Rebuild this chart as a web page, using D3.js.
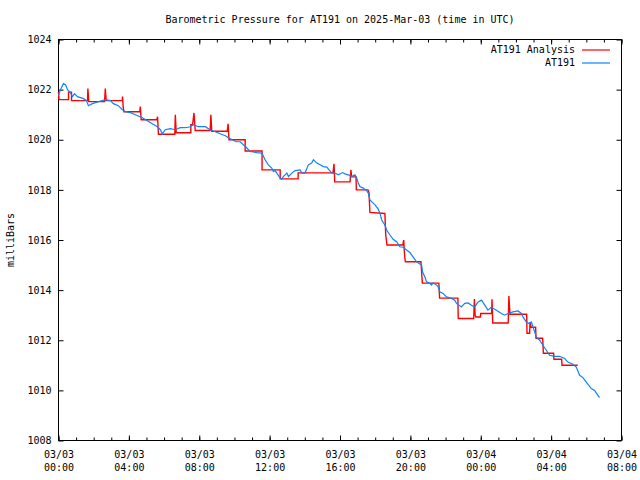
<!DOCTYPE html>
<html>
<head>
<meta charset="utf-8">
<script src="https://cdn.jsdelivr.net/npm/d3@7"></script>
<style>
  html, body { margin: 0; padding: 0; background: #fff; }
  svg text { font-family: "DejaVu Sans Mono", "Liberation Mono", monospace; font-size: 10px; fill: #000; }
</style>
</head>
<body>
<svg id="chart" width="640" height="480"></svg>
<script>
// ---- data (hours after 2025-03-03 00:00 UTC) ----
const titleText = "Barometric Pressure for AT191 on 2025-Mar-03 (time in UTC)";
const yLabel = "milliBars";
const seriesNames = ["AT191 Analysis", "AT191"];
const seriesColors = ["#ff0000", "#0a84ff"];

const analysisHours = [0, 0.03, 0.57, 0.57, 0.74, 0.74, 1.65, 1.67, 1.72, 2.62,
  2.66, 2.71, 3.62, 3.64, 3.68, 3.72, 4.62, 4.65, 4.70, 5.59,
  5.63, 5.68, 6.61, 6.64, 6.69, 7.52, 7.52, 7.62, 7.70, 7.77,
  8.62, 8.66, 8.71, 9.59, 9.64, 9.69, 10.61, 10.61, 11.57, 11.57,
  12.60, 12.60, 13.62, 13.62, 15.60, 15.66, 15.70, 16.57, 16.62, 16.66,
  16.91, 16.93, 17.59, 17.65, 17.70, 18.55, 18.60, 18.67, 19.57, 19.62,
  19.68, 19.72, 20.60, 20.68, 21.62, 21.66, 22.70, 22.72, 23.60, 23.64,
  23.68, 23.72, 23.98, 24.00, 24.62, 24.64, 24.68, 25.56, 25.60, 25.66,
  26.61, 26.63, 26.78, 26.80, 26.86, 27.12, 27.14, 27.52, 27.56, 28.14,
  28.16, 28.60, 28.62, 29.51];
const analysisValues = [1021.92, 1021.6, 1021.6, 1021.9, 1021.9, 1021.56, 1021.56, 1022.04, 1021.52, 1021.52,
  1022.04, 1021.56, 1021.56, 1021.72, 1021.28, 1021.12, 1021.12, 1021.32, 1020.8, 1020.8,
  1020.92, 1020.22, 1020.22, 1021.0, 1020.28, 1020.28, 1020.6, 1020.6, 1021.07, 1020.37,
  1020.37, 1021.0, 1020.34, 1020.34, 1020.64, 1020.0, 1020.0, 1019.55, 1019.55, 1018.8,
  1018.8, 1018.44, 1018.44, 1018.68, 1018.68, 1019.04, 1018.32, 1018.32, 1018.8, 1018.52,
  1018.52, 1018.0, 1018.0, 1017.88, 1017.1, 1017.06, 1016.2, 1015.8, 1015.8, 1016.0,
  1015.3, 1015.13, 1015.13, 1014.28, 1014.28, 1013.68, 1013.68, 1012.87, 1012.87, 1013.64,
  1013.0, 1012.93, 1012.93, 1013.07, 1013.07, 1013.64, 1012.69, 1012.69, 1013.76, 1013.04,
  1013.04, 1012.28, 1012.28, 1012.72, 1012.52, 1012.52, 1012.08, 1012.08, 1011.48, 1011.48,
  1011.24, 1011.24, 1011.0, 1011.0];

const obsHours = [0, 0.11, 0.28, 0.40, 0.51, 0.68, 0.79, 0.91, 1.08, 1.25,
  1.42, 1.59, 1.70, 1.93, 2.10, 2.38, 2.67, 2.95, 3.12, 3.40,
  3.63, 3.80, 4.09, 4.37, 4.77, 5.05, 5.33, 5.62, 5.79, 5.90,
  6.07, 6.35, 6.64, 6.92, 7.21, 7.49, 7.66, 7.94, 8.34, 8.62,
  8.91, 9.19, 9.48, 9.65, 9.87, 10.10, 10.33, 10.71, 10.89, 11.27,
  11.56, 11.74, 11.93, 12.12, 12.22, 12.31, 12.41, 12.56, 12.69, 12.78,
  12.98, 13.07, 13.26, 13.45, 13.73, 13.83, 14.01, 14.20, 14.39, 14.49,
  14.68, 14.87, 15.05, 15.25, 15.53, 15.72, 15.90, 16.15, 16.28, 16.47,
  16.66, 16.85, 16.95, 17.04, 17.13, 17.32, 17.51, 17.61, 17.70, 17.80,
  17.99, 18.17, 18.27, 18.37, 18.55, 18.65, 18.84, 19.02, 19.22, 19.40,
  19.59, 19.78, 19.97, 20.16, 20.35, 20.54, 20.64, 20.69, 20.82, 20.92,
  21.11, 21.20, 21.29, 21.49, 21.58, 21.67, 21.86, 22.05, 22.34, 22.52,
  22.62, 22.90, 23.09, 23.28, 23.47, 23.66, 23.85, 24.04, 24.23, 24.41,
  24.60, 24.79, 24.98, 25.17, 25.36, 25.55, 25.83, 26.12, 26.31, 26.40,
  26.59, 26.74, 26.88, 26.97, 27.16, 27.35, 27.53, 27.73, 27.91, 28.20,
  28.48, 28.77, 28.95, 29.24, 29.43, 29.62, 29.81, 30.00, 30.28, 30.47,
  30.66, 30.75];
const obsValues = [1021.76, 1022.0, 1022.24, 1022.2, 1022.0, 1021.88, 1021.72, 1021.84, 1021.72, 1021.68,
  1021.64, 1021.56, 1021.36, 1021.44, 1021.48, 1021.54, 1021.6, 1021.56, 1021.44, 1021.36,
  1021.2, 1021.12, 1021.08, 1021.0, 1020.88, 1020.76, 1020.64, 1020.52, 1020.4, 1020.24,
  1020.4, 1020.44, 1020.4, 1020.48, 1020.48, 1020.52, 1020.6, 1020.52, 1020.52, 1020.4,
  1020.32, 1020.24, 1020.16, 1020.08, 1020.0, 1019.92, 1019.92, 1019.67, 1019.53, 1019.49,
  1019.47, 1019.2, 1019.0, 1018.87, 1018.73, 1018.77, 1018.67, 1018.51, 1018.43, 1018.53,
  1018.67, 1018.53, 1018.67, 1018.77, 1018.8, 1018.67, 1018.67, 1019.0, 1019.07, 1019.2,
  1019.07, 1019.0, 1018.93, 1018.91, 1018.67, 1018.67, 1018.6, 1018.69, 1018.64, 1018.6,
  1018.53, 1018.6, 1018.47, 1018.27, 1018.13, 1018.07, 1017.97, 1017.87, 1017.6, 1017.53,
  1017.4, 1017.23, 1017.07, 1016.8, 1016.6, 1016.4, 1016.2, 1016.03, 1015.93, 1015.73,
  1015.71, 1015.6, 1015.5, 1015.32, 1015.13, 1015.04, 1015.0, 1014.73, 1014.53, 1014.33,
  1014.27, 1014.2, 1014.29, 1014.2, 1014.13, 1013.93, 1013.87, 1013.73, 1013.67, 1013.6,
  1013.47, 1013.33, 1013.47, 1013.49, 1013.4, 1013.33, 1013.53, 1013.6, 1013.4, 1013.2,
  1013.32, 1013.24, 1013.16, 1013.07, 1013.0, 1013.07, 1013.13, 1013.17, 1013.07, 1012.93,
  1012.73, 1012.67, 1012.73, 1012.53, 1012.13, 1012.0, 1011.8, 1011.6, 1011.4, 1011.36,
  1011.36, 1011.27, 1011.13, 1011.04, 1010.93, 1010.6, 1010.51, 1010.33, 1010.07, 1010.0,
  1009.8, 1009.71];

const yTicks = [1008, 1010, 1012, 1014, 1016, 1018, 1020, 1022, 1024];
const startTime = Date.UTC(2025, 2, 3, 0, 0);
const endTime = Date.UTC(2025, 2, 4, 8, 0);

// ---- layout ----
const svg = d3.select("#chart");
const L = 58.5, R = 621.5, T = 39.5, B = 440.5;

const x = d3.scaleUtc().domain([new Date(startTime), new Date(endTime)]).range([L, R]);
const y = d3.scaleLinear().domain([1008, 1024]).range([B, T]);
const toDate = h => new Date(startTime + h * 3600000);

const analysis = analysisHours.map((h, i) => ({ t: toDate(h), v: analysisValues[i] }));
const obs = obsHours.map((h, i) => ({ t: toDate(h), v: obsValues[i] }));

// title
svg.append("text").attr("x", 340).attr("y", 20).attr("text-anchor", "middle")
  .attr("dominant-baseline", "middle").text(titleText);

// y label
svg.append("text").attr("transform", "translate(11,240) rotate(-90)")
  .attr("text-anchor", "middle").attr("dominant-baseline", "middle").text(yLabel);

const majorTicks = d3.utcHour.every(4).range(new Date(startTime), new Date(endTime + 1));
const minorTicks = d3.utcHour.every(1).range(new Date(startTime), new Date(endTime + 1));

// minor x ticks (bottom and top)
svg.append("g").attr("transform", `translate(0,${B})`)
  .call(d3.axisBottom(x).tickValues(minorTicks).tickSizeInner(-3).tickSizeOuter(0).tickFormat(""))
  .call(g => g.select(".domain").remove());
svg.append("g").attr("transform", `translate(0,${T})`)
  .call(d3.axisTop(x).tickValues(minorTicks).tickSizeInner(-3).tickSizeOuter(0).tickFormat(""))
  .call(g => g.select(".domain").remove());

// major x ticks
const fmtDate = d3.utcFormat("%m/%d"), fmtTime = d3.utcFormat("%H:%M");
const xb = svg.append("g").attr("transform", `translate(0,${B})`)
  .call(d3.axisBottom(x).tickValues(majorTicks).tickSizeInner(-5).tickSizeOuter(0).tickFormat(""))
  .call(g => g.select(".domain").remove());
xb.selectAll(".tick").each(function (d) {
  const t = d3.select(this).append("text").attr("text-anchor", "middle").attr("fill", "#000");
  t.append("tspan").attr("x", 0).attr("y", 17).text(fmtDate(d));
  t.append("tspan").attr("x", 0).attr("y", 30).text(fmtTime(d));
});
svg.append("g").attr("transform", `translate(0,${T})`)
  .call(d3.axisTop(x).tickValues(majorTicks).tickSizeInner(-5).tickSizeOuter(0).tickFormat(""))
  .call(g => g.select(".domain").remove());

// y ticks
svg.append("g").attr("transform", `translate(${L},0)`)
  .call(d3.axisLeft(y).tickValues(yTicks).tickSizeInner(-5).tickSizeOuter(0).tickPadding(7).tickFormat(d3.format("d")))
  .call(g => g.select(".domain").remove())
  .call(g => g.selectAll("text").style("font-family", "DejaVu Sans Mono, monospace").style("font-size", "10px"));
svg.append("g").attr("transform", `translate(${R},0)`)
  .call(d3.axisRight(y).tickValues(yTicks).tickSizeInner(-5).tickSizeOuter(0).tickFormat(""))
  .call(g => g.select(".domain").remove());

svg.selectAll(".tick line").attr("stroke", "#000");
svg.selectAll(".tick text").attr("fill", "#000");

// frame
svg.append("rect").attr("x", L).attr("y", T).attr("width", R - L).attr("height", B - T)
  .attr("fill", "none").attr("stroke", "#000").attr("stroke-width", 1);

// lines
const line = d3.line().x(d => x(d.t)).y(d => y(d.v));
svg.append("path").datum(analysis).attr("d", line).attr("fill", "none")
  .attr("stroke", seriesColors[0]).attr("stroke-width", 1.4).attr("stroke-linejoin", "miter");
svg.append("path").datum(obs).attr("d", line).attr("fill", "none")
  .attr("stroke", seriesColors[1]).attr("stroke-width", 1.2);

// legend
const legY = [50, 63];
seriesNames.forEach((name, i) => {
  svg.append("text").attr("x", 575).attr("y", legY[i]).attr("text-anchor", "end")
    .attr("dominant-baseline", "middle").text(name);
  svg.append("line").attr("x1", 582).attr("x2", 610).attr("y1", legY[i]).attr("y2", legY[i])
    .attr("stroke", seriesColors[i]).attr("stroke-width", 1.2);
});
</script>
</body>
</html>
